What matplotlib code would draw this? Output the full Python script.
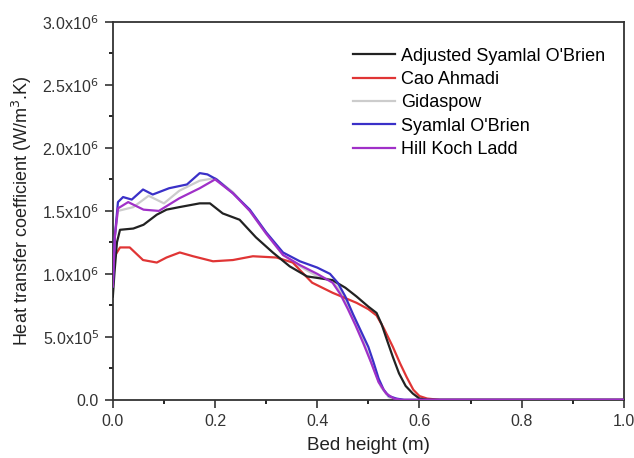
import numpy as np
import matplotlib
matplotlib.use("Agg")
import matplotlib.pyplot as plt
from matplotlib.ticker import MultipleLocator, FuncFormatter

plt.rcParams['font.family'] = ['Liberation Sans', 'DejaVu Sans']

# series (x in m, y in 1e6 W/m3.K)
adj_x = [0, 0.003, 0.008, 0.014, 0.04, 0.06, 0.086, 0.105, 0.13, 0.17, 0.19, 0.215, 0.248,
         0.28, 0.313, 0.346, 0.38, 0.43, 0.455, 0.477, 0.50, 0.516, 0.526, 0.536, 0.548,
         0.56, 0.573, 0.587, 0.60, 0.615, 1.0]
adj_y = [0.82, 1.0, 1.25, 1.35, 1.36, 1.39, 1.47, 1.51, 1.53, 1.56, 1.56, 1.48, 1.43,
         1.29, 1.17, 1.06, 0.98, 0.95, 0.89, 0.82, 0.74, 0.69, 0.60, 0.48, 0.34,
         0.21, 0.11, 0.05, 0.01, 0.0, 0.0]

cao_x = [0, 0.005, 0.014, 0.033, 0.059, 0.086, 0.105, 0.131, 0.157, 0.196, 0.235, 0.274,
         0.32, 0.352, 0.39, 0.43, 0.477, 0.50, 0.516, 0.53, 0.548, 0.562, 0.575, 0.588,
         0.60, 0.615, 0.64, 1.0]
cao_y = [1.05, 1.15, 1.21, 1.21, 1.11, 1.09, 1.13, 1.17, 1.14, 1.10, 1.11, 1.14,
         1.13, 1.09, 0.93, 0.85, 0.77, 0.72, 0.67, 0.57, 0.42, 0.29, 0.18, 0.08,
         0.03, 0.01, 0.0, 0.0]

gid_x = [0, 0.004, 0.01, 0.04, 0.07, 0.1, 0.13, 0.17, 0.2, 0.235, 0.268, 0.30, 0.333,
         0.366, 0.40, 0.43, 0.45, 0.47, 0.49, 0.51, 0.525, 0.54, 0.555, 1.0]
gid_y = [0.9, 1.3, 1.5, 1.53, 1.62, 1.56, 1.66, 1.74, 1.76, 1.65, 1.50, 1.32, 1.15,
         1.06, 0.98, 0.95, 0.83, 0.66, 0.47, 0.25, 0.10, 0.02, 0.0, 0.0]

syo_x = [0, 0.004, 0.01, 0.02, 0.037, 0.059, 0.078, 0.11, 0.145, 0.17, 0.185, 0.203, 0.235,
         0.268, 0.30, 0.333, 0.366, 0.40, 0.425, 0.44, 0.455, 0.47, 0.485, 0.50, 0.51,
         0.52, 0.53, 0.54, 0.555, 0.57, 1.0]
syo_y = [0.9, 1.3, 1.57, 1.61, 1.59, 1.67, 1.63, 1.68, 1.71, 1.80, 1.79, 1.75, 1.64,
         1.51, 1.33, 1.17, 1.10, 1.05, 1.00, 0.93, 0.82, 0.68, 0.55, 0.42, 0.30,
         0.17, 0.08, 0.03, 0.01, 0.0, 0.0]

hkl_x = [0, 0.004, 0.01, 0.03, 0.06, 0.09, 0.13, 0.17, 0.2, 0.235, 0.268, 0.30, 0.333,
         0.366, 0.40, 0.43, 0.445, 0.46, 0.475, 0.49, 0.505, 0.52, 0.535, 0.55, 0.565, 1.0]
hkl_y = [0.9, 1.3, 1.52, 1.57, 1.51, 1.50, 1.60, 1.68, 1.75, 1.64, 1.50, 1.32, 1.15,
         1.07, 1.0, 0.93, 0.84, 0.72, 0.59, 0.45, 0.30, 0.14, 0.05, 0.01, 0.0, 0.0]

fig = plt.figure(figsize=(6.34, 4.58), dpi=100)
ax = fig.add_axes([0.178, 0.127, 0.806, 0.825])

lw = 1.6
ax.plot(adj_x, np.array(adj_y) * 1e6, color='#222222', lw=lw, label="Adjusted Syamlal O'Brien", zorder=4)
ax.plot(cao_x, np.array(cao_y) * 1e6, color='#e03535', lw=lw, label='Cao Ahmadi', zorder=3)
ax.plot(gid_x, np.array(gid_y) * 1e6, color='#cccccc', lw=lw, label='Gidaspow', zorder=2)
ax.plot(syo_x, np.array(syo_y) * 1e6, color='#3a30c8', lw=lw, label="Syamlal O'Brien", zorder=5)
ax.plot(hkl_x, np.array(hkl_y) * 1e6, color='#a030c8', lw=lw, label='Hill Koch Ladd', zorder=6)

ax.set_xlim(0, 1.0)
ax.set_ylim(0, 3.0e6)
ax.xaxis.set_major_locator(MultipleLocator(0.2))
ax.xaxis.set_minor_locator(MultipleLocator(0.1))
ax.yaxis.set_major_locator(MultipleLocator(0.5e6))
ax.yaxis.set_minor_locator(MultipleLocator(0.25e6))


def yfmt(v, pos):
    if v <= 0:
        return '0.0'
    e = int(np.floor(np.log10(v)))
    return '%.1fx10$^{%d}$' % (v / 10 ** e, e)


ax.yaxis.set_major_formatter(FuncFormatter(yfmt))
ax.xaxis.set_major_formatter(FuncFormatter(lambda v, p: '%.1f' % v))
ax.tick_params(which='major', direction='out', length=6, width=1.2, labelsize=11.5,
               colors='#333333', pad=4)
ax.tick_params(which='minor', direction='out', length=3, width=1.2)
for s in ax.spines.values():
    s.set_linewidth(1.3)
    s.set_color('#333333')

ax.set_xlabel('Bed height (m)', fontsize=13.5, color='#222222', labelpad=6)
ax.set_ylabel('Heat transfer coefficient (W/m$^3$.K)', fontsize=13, color='#222222', labelpad=6)

ax.legend(loc='upper right', bbox_to_anchor=(0.995, 0.975), frameon=False, fontsize=13,
          handlelength=2.3, handletextpad=0.35, labelspacing=0.35)

fig.savefig('out.png', dpi=100)
